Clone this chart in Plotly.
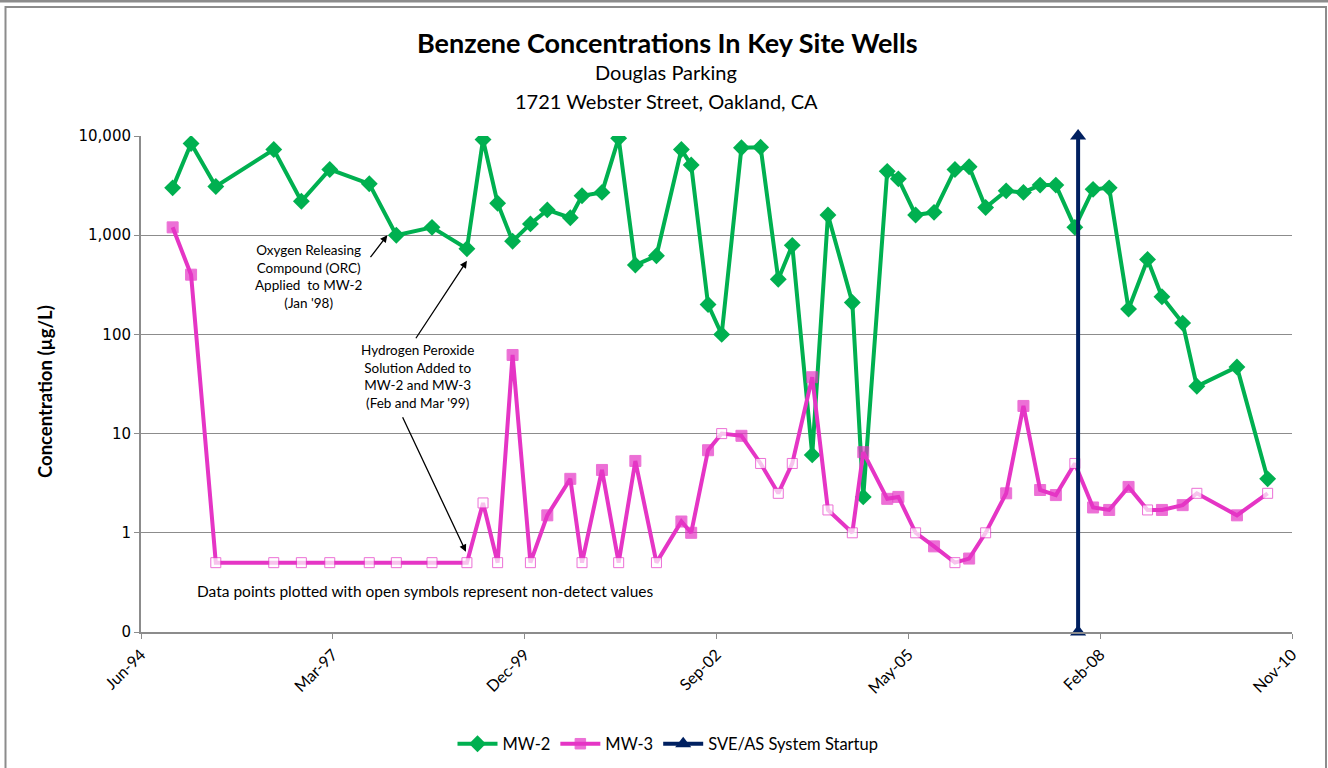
import math
import plotly.graph_objects as go

# ---------------- data ----------------
SAMPLE_DATES = [
    "1994-11-30", "1995-03-06", "1995-07-13", "1996-05-10", "1996-10-01", "1997-02-26",
    "1997-09-20", "1998-02-08", "1998-08-13", "1999-02-11", "1999-05-06", "1999-07-21",
    "1999-10-07", "2000-01-08", "2000-04-05", "2000-08-03", "2000-10-03", "2001-01-15",
    "2001-04-12", "2001-07-08", "2001-10-26", "2002-03-05", "2002-04-25", "2002-07-22",
    "2002-10-01", "2003-01-12", "2003-04-22", "2003-07-23", "2003-10-04", "2004-01-16",
    "2004-04-07", "2004-08-12", "2004-10-08", "2005-02-10", "2005-04-09", "2005-07-08",
    "2005-10-12", "2006-01-29", "2006-04-13", "2006-07-08", "2006-10-23", "2007-01-21",
    "2007-04-18", "2007-07-09", "2007-10-16", "2008-01-19", "2008-04-12", "2008-07-22",
    "2008-10-29", "2009-01-12", "2009-04-30", "2009-07-13", "2010-02-07", "2010-07-17",
]

MW2_VALUES = [
    3000, 8400, 3100, 7300, 2200, 4600,
    3300, 1000, 1200, 730, 9200, 2100,
    870, 1300, 1800, 1500, 2500, 2700,
    9500, 500, 620, 7300, 5100, 200,
    100, 7600, 7700, 360, 790, 6.1,
    1600, 210, 2.3, 4400, 3700, 1600,
    1700, 4600, 4900, 1900, 2800, 2700,
    3200, 3200, 1200, 2900, 3000, 180,
    570, 240, 130, 30, 47, 3.5,
]

MW3_VALUES = [
    1200, 400, 0.5, 0.5, 0.5, 0.5,
    0.5, 0.5, 0.5, 0.5, 2.0, 0.5,
    62, 0.5, 1.5, 3.5, 0.5, 4.3,
    0.5, 5.3, 0.5, 1.3, 1.0, 6.8,
    10, 9.5, 5.0, 2.5, 5.0, 37,
    1.7, 1.0, 6.5, 2.2, 2.3, 1.0,
    0.73, 0.5, 0.55, 1.0, 2.5, 19,
    2.7, 2.4, 5.0, 1.8, 1.7, 2.9,
    1.7, 1.7, 1.9, 2.5, 1.5, 2.5,
]

# True = non-detect (plotted with open symbol)
MW3_NONDETECT = [
    False, False, True, True, True, True,
    True, True, True, True, True, True,
    False, True, False, False, True, False,
    True, False, True, False, False, False,
    True, False, True, True, True, False,
    True, True, False, False, False, True,
    False, True, False, True, False, False,
    False, False, True, False, False, False,
    True, False, False, True, False, True,
]

SVE_DATE = "2007-11-02"
SVE_RANGE = [0.1, 10000]

Y_TICK_VALUES = [0.1, 1, 10, 100, 1000, 10000]
Y_TICK_LABELS = ["0", "1", "10", "100", "1,000", "10,000"]
X_TICK_DATES = ["1994-06-18", "1997-03-14", "1999-12-09", "2002-09-04",
                "2005-05-31", "2008-02-25", "2010-11-21"]
X_RANGE = ["1994-06-18", "2010-11-21"]

ORC_POINT = ("1998-02-08", 1000)
H2O2_MW2_POINT = ("1999-02-11", 730)
H2O2_MW3_POINT = ("1999-02-11", 0.5)

TITLE = "Benzene Concentrations In Key Site Wells"
SUBTITLE_1 = "Douglas Parking"
SUBTITLE_2 = "1721 Webster Street, Oakland, CA"
Y_TITLE = "Concentration (µg/L)"
NOTE_ORC = "Oxygen Releasing<br>Compound (ORC)<br>Applied  to MW-2<br>(Jan '98)"
NOTE_H2O2 = "Hydrogen Peroxide<br>Solution Added to<br>MW-2 and MW-3<br>(Feb and Mar '99)"
NOTE_ND = "Data points plotted with open symbols represent non-detect values"

# ---------------- styling ----------------
GREEN = "#00B050"
PINK = "#E535C5"
NAVY = "#002060"
GRID = "#8C8C8C"
FONT = "Lato"
black = "#000000"

W, H = 1328, 768
L, R, T, B = 141, W - 1292, 136, H - 632
PW, PH = W - L - R, H - T - B


def px_x(px):
    return (px - L) / PW


def px_y(py):
    return (H - B - py) / PH


fig = go.Figure()

fig.add_trace(go.Scatter(
    x=SAMPLE_DATES, y=MW2_VALUES, name="MW-2", mode="lines+markers",
    line=dict(color=GREEN, width=4),
    marker=dict(symbol="diamond", size=13, color=GREEN),
))

mw3_fill = ["white" if nd else PINK for nd in MW3_NONDETECT]
mw3_size = [10 if nd else 11 for nd in MW3_NONDETECT]
fig.add_trace(go.Scatter(
    x=SAMPLE_DATES, y=MW3_VALUES, name="MW-3", mode="lines+markers",
    line=dict(color=PINK, width=4),
    marker=dict(symbol="square", size=mw3_size, color=mw3_fill,
                line=dict(color=PINK, width=1)),
))

fig.add_trace(go.Scatter(
    x=[SVE_DATE, SVE_DATE], y=SVE_RANGE, name="SVE/AS System Startup",
    mode="lines+markers", cliponaxis=False,
    line=dict(color=NAVY, width=4),
    marker=dict(symbol="triangle-up", size=14, color=NAVY),
))

annotations = [
    dict(text="<b>" + TITLE + "</b>", x=px_x(667), y=px_y(42), xref="paper", yref="paper",
         xanchor="center", yanchor="middle", showarrow=False,
         font=dict(size=27, family=FONT, color=black)),
    dict(text=SUBTITLE_1, x=px_x(666), y=px_y(72), xref="paper", yref="paper",
         xanchor="center", yanchor="middle", showarrow=False,
         font=dict(size=20, family=FONT, color=black)),
    dict(text=SUBTITLE_2, x=px_x(666), y=px_y(101), xref="paper", yref="paper",
         xanchor="center", yanchor="middle", showarrow=False,
         font=dict(size=20, family=FONT, color=black)),
    dict(text="<b>" + Y_TITLE + "</b>", x=px_x(45), y=px_y(392), xref="paper", yref="paper",
         xanchor="center", yanchor="middle", showarrow=False, textangle=-90,
         font=dict(size=18.5, family=FONT, color=black)),
    dict(text=NOTE_ORC, x=px_x(308), y=px_y(276), xref="paper", yref="paper",
         xanchor="center", yanchor="middle", showarrow=False, align="center",
         font=dict(size=13.5, family=FONT, color=black)),
    dict(text=NOTE_H2O2, x=px_x(417), y=px_y(376), xref="paper", yref="paper",
         xanchor="center", yanchor="middle", showarrow=False, align="center",
         font=dict(size=13.5, family=FONT, color=black)),
    dict(text=NOTE_ND, x=px_x(425), y=px_y(591), xref="paper", yref="paper",
         xanchor="center", yanchor="middle", showarrow=False,
         font=dict(size=15.5, family=FONT, color=black)),
    # arrows
    dict(text="", x=ORC_POINT[0], y=math.log10(ORC_POINT[1]), xref="x", yref="y",
         xshift=-9, yshift=0, showarrow=True, arrowhead=2, arrowsize=1.1,
         arrowwidth=1.3, arrowcolor=black, ax=-18, ay=23.5, standoff=0),
    dict(text="", x=H2O2_MW2_POINT[0], y=math.log10(H2O2_MW2_POINT[1]), xref="x", yref="y",
         xshift=0, yshift=-12, showarrow=True, arrowhead=2, arrowsize=1.1,
         arrowwidth=1.3, arrowcolor=black, ax=-52, ay=79, standoff=0),
    dict(text="", x=H2O2_MW3_POINT[0], y=math.log10(H2O2_MW3_POINT[1]), xref="x", yref="y",
         xshift=-1, yshift=11, showarrow=True, arrowhead=2, arrowsize=1.1,
         arrowwidth=1.3, arrowcolor=black, ax=-64, ay=-136, standoff=0),
]

shapes = [
    dict(type="rect", xref="paper", yref="paper",
         x0=px_x(5.5), x1=px_x(1326), y0=px_y(800), y1=px_y(7),
         line=dict(color="#8C8C8C", width=2), fillcolor="rgba(0,0,0,0)", layer="below"),
    dict(type="line", xref="paper", yref="paper",
         x0=px_x(0), x1=px_x(W), y0=px_y(1.2), y1=px_y(1.2),
         line=dict(color="#8C8C8C", width=2.5)),
]

fig.update_layout(
    width=W, height=H,
    margin=dict(l=L, r=R, t=T, b=B, autoexpand=False),
    paper_bgcolor="white", plot_bgcolor="white",
    font=dict(family=FONT, color=black),
    xaxis=dict(
        type="date", range=X_RANGE, tickvals=X_TICK_DATES, tickformat="%b-%y",
        tickangle=-45, showgrid=False, showline=True, linecolor=GRID, linewidth=2,
        ticks="outside", ticklen=5, tickcolor=GRID, zeroline=False,
        tickfont=dict(size=16, family=FONT, color=black),
    ),
    yaxis=dict(
        type="log", range=[-1, 4], tickvals=Y_TICK_VALUES, ticktext=Y_TICK_LABELS,
        showgrid=True, gridcolor=GRID, gridwidth=1,
        showline=True, linecolor=GRID, linewidth=2,
        ticks="outside", ticklen=5, tickcolor=GRID, zeroline=False,
        tickfont=dict(size=15, family="DejaVu Sans", color=black),
    ),
    legend=dict(
        orientation="h", xref="container", yref="container",
        x=668 / W, xanchor="center", y=1 - 744 / H, yanchor="middle",
        font=dict(size=16.5, family=FONT, color=black),
        itemwidth=40, tracegroupgap=0,
    ),
    showlegend=True,
    annotations=annotations,
    shapes=shapes,
)

fig.write_html("out.html", config={"displayModeBar": False},
               post_script="document.body.style.margin='0';")
